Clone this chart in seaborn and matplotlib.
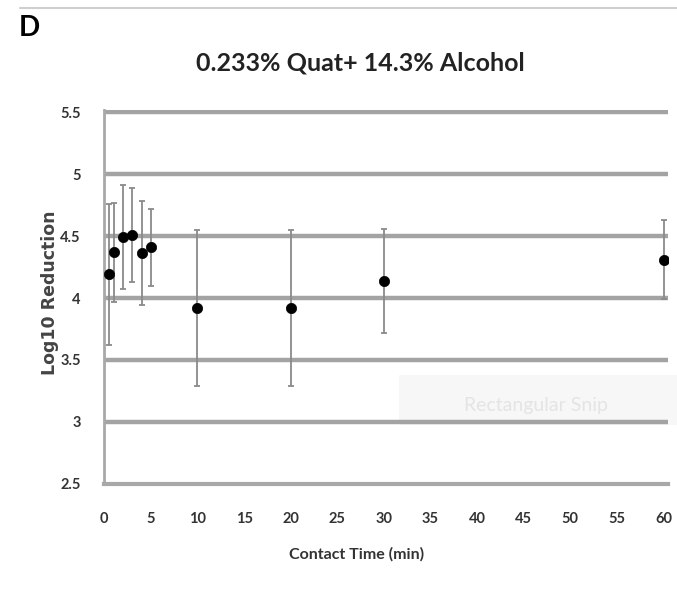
import matplotlib
matplotlib.use("Agg")
import matplotlib.pyplot as plt
import seaborn as sns
import pandas as pd
from matplotlib.lines import Line2D
from matplotlib.patches import Rectangle

# Data
contact_time = [0.5, 1, 2, 3, 4, 5, 10, 20, 30, 60]
log_reduction = [4.19, 4.37, 4.49, 4.51, 4.36, 4.41, 3.92, 3.92, 4.14, 4.31]
error = [0.57, 0.40, 0.42, 0.38, 0.42, 0.31, 0.63, 0.63, 0.42, 0.32]
x_ticks = [0, 5, 10, 15, 20, 25, 30, 35, 40, 45, 50, 55, 60]
y_ticks = [2.5, 3, 3.5, 4, 4.5, 5, 5.5]
y_tick_labels = ["2.5", "3", "3.5", "4", "4.5", "5", "5.5"]

df = pd.DataFrame({"t": contact_time, "r": log_reduction, "e": error})

sns.set_theme(style="white")
plt.rcParams['font.family'] = ['Lato', 'DejaVu Sans']

fig = plt.figure(figsize=(6.77, 5.90), dpi=100)

# faint snip overlay artifact (behind the transparent axes)
fig.add_artist(Rectangle((0.59, 0.28), 0.41, 0.085, facecolor="#f7f7f7", edgecolor="none", zorder=0))
fig.text(0.685, 0.313, "Rectangular Snip", fontsize=14, color="#e4e4e4", ha="left", va="center", zorder=0)

ax = fig.add_axes([0.154, 0.180, 0.833, 0.634])
ax.set_facecolor("none")

# gridlines
for yv in y_ticks[1:]:
    ax.axhline(yv, color="#a3a3a3", lw=3.2, zorder=0)

ax.errorbar(df["t"], df["r"], yerr=df["e"], fmt="none", ecolor="#8a8a8a",
            elinewidth=1.3, capsize=2.2, capthick=1.3, zorder=2)
sns.scatterplot(data=df, x="t", y="r", ax=ax, color="black", s=55,
                edgecolor="black", linewidth=0.5, zorder=3, legend=False)

ax.set_xlim(0, 60.5)
ax.set_ylim(2.5, 5.52)
ax.set_xticks(x_ticks)
ax.set_xticklabels([str(v) for v in x_ticks])
ax.set_yticks(y_ticks)
ax.set_yticklabels(y_tick_labels)
ax.tick_params(axis="x", length=0, labelsize=10.5, colors="#333333", pad=20)
ax.tick_params(axis="y", length=0, labelsize=10.5, colors="#333333", pad=17)
for lab in ax.get_xticklabels() + ax.get_yticklabels():
    lab.set_fontweight("bold")

for s in ["top", "right"]:
    ax.spines[s].set_visible(False)
ax.spines["left"].set_color("#a8a8a8")
ax.spines["left"].set_linewidth(2)
ax.spines["bottom"].set_color("#a8a8a8")
ax.spines["bottom"].set_linewidth(3)

ax.set_xlabel("Contact Time (min)", fontsize=11.5, fontweight="bold", color="#333333")
ax.xaxis.set_label_coords(0.448, -0.17)
ax.set_ylabel("Log10 Reduction", fontsize=12.5, fontweight="bold", color="#444444",
              family=["DejaVu Sans"])
ax.yaxis.set_label_coords(-0.08, 0.51)

fig.text(0.532, 0.893, "0.233% Quat+ 14.3% Alcohol", ha="center", va="center",
         fontsize=18, fontweight="bold", color="#222222")
fig.text(0.027, 0.952, "D", ha="left", va="center", fontsize=20, fontweight="bold", color="black")

# top border line of the panel
fig.add_artist(Line2D([0.03, 1.0], [0.986, 0.986], color="#cfcfcf", lw=1.5))

fig.savefig("out.png", dpi=100)
